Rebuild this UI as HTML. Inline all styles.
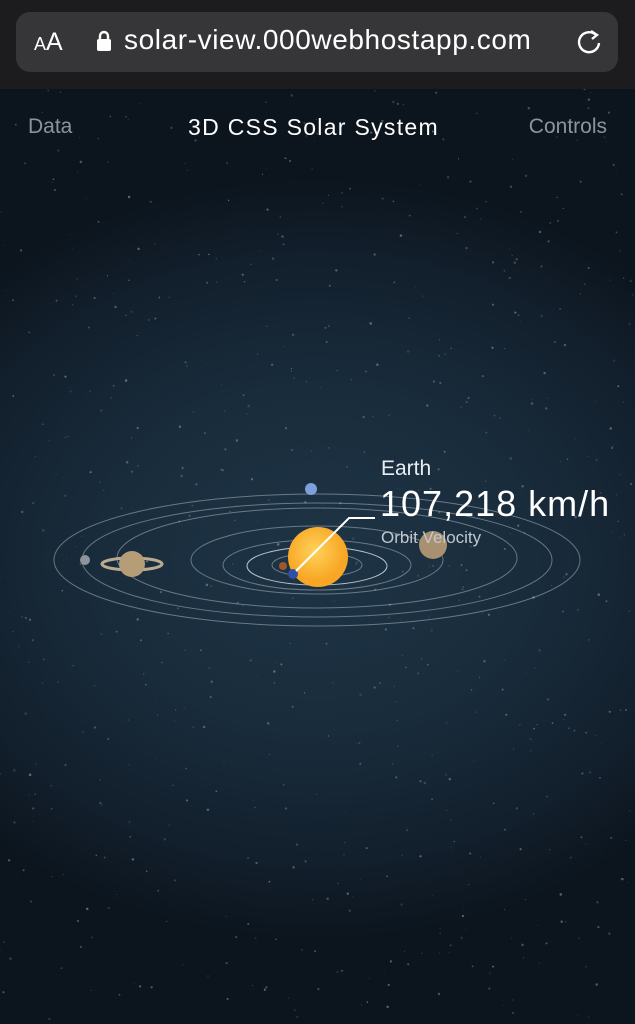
<!DOCTYPE html>
<html><head><meta charset="utf-8"><style>
body{margin:0;width:635px;height:1024px;overflow:hidden;font-family:"Liberation Sans","DejaVu Sans",sans-serif;}
#topbar{position:absolute;left:0;top:0;width:635px;height:89px;background:#1c1c1e;}
#url{position:absolute;left:16px;top:12px;width:602px;height:60px;border-radius:14px;background:#363638;}
#scene{position:absolute;left:0;top:89px;width:635px;height:935px;background:radial-gradient(ellipse 480px 380px at 317px 470px,#1e3445 0%,#192c3c 45%,#121f2c 80%,#0c151e 100%);}
.t{position:absolute;white-space:nowrap;}
</style></head><body>
<div id="topbar">
 <div id="url">
  <span class="t" style="left:18px;top:16px;color:#fff;font-size:25px;"><span style="font-size:18px">A</span>A</span>
  <svg style="position:absolute;left:80px;top:17px" width="16" height="24"><path d="M4 11V7a4 4 0 0 1 8 0v4" stroke="#fff" stroke-width="2.4" fill="none"/><rect x="1" y="10" width="14" height="12" rx="2" fill="#fff"/></svg>
  <span class="t" style="left:108px;top:12px;color:#fff;font-size:28px;letter-spacing:0.6px;">solar-view.000webhostapp.com</span>
  <svg style="position:absolute;left:560px;top:16px" width="28" height="30"><path d="M20 7 A10 10 0 1 0 23 15" stroke="#fff" stroke-width="2.4" fill="none"/><path d="M15 3 L21 7 L16 11" stroke="#fff" stroke-width="2.4" fill="none"/></svg>
 </div>
</div>
<div id="scene">
 <svg id="stars" width="635" height="935" style="position:absolute;left:0;top:0"></svg>
 <span class="t" style="left:28px;top:26px;color:#8b939c;font-size:21px;">Data</span>
 <span class="t" style="left:188px;top:25px;color:#fff;font-size:23px;letter-spacing:1.3px;">3D CSS Solar System</span>
 <span class="t" style="right:28px;top:26px;color:#8b939c;font-size:21px;">Controls</span>
</div>
<svg width="635" height="1024" style="position:absolute;left:0;top:0">
 <defs><radialGradient id="sun" cx="45%" cy="40%"><stop offset="0" stop-color="#ffd25a"/><stop offset="1" stop-color="#f8a624"/></radialGradient></defs>
 <g fill="none" stroke="#c9d3db" stroke-opacity="0.45" stroke-width="1">
  <ellipse cx="317" cy="565" rx="45" ry="12"/>
  <ellipse cx="317" cy="566" rx="70" ry="19" stroke-opacity="0.9"/>
  <ellipse cx="317" cy="565" rx="94" ry="25"/>
  <ellipse cx="317" cy="560" rx="126" ry="34"/>
  <ellipse cx="317" cy="558" rx="200" ry="50"/>
  <ellipse cx="317" cy="560" rx="235" ry="57"/>
  <ellipse cx="317" cy="560" rx="263" ry="66"/>
 </g>
 <circle cx="311" cy="489" r="6" fill="#7e9fd8"/>
 <circle cx="85" cy="560" r="5" fill="#8d949c"/>
 <g><ellipse cx="132" cy="564" rx="30" ry="6" fill="none" stroke="#b9ab8f" stroke-width="3"/><circle cx="132" cy="564" r="13" fill="#b59d77"/></g>
 <circle cx="433" cy="545" r="14" fill="#a89070"/>
 <circle cx="283" cy="566" r="4" fill="#a0562d"/>
 <circle cx="318" cy="557" r="30" fill="url(#sun)"/>
 <circle cx="293" cy="574" r="5" fill="#2f4fa8"/>
 <polyline points="296,571 349,518 375,518" fill="none" stroke="#fff" stroke-width="2"/>
 <text x="381" y="475" fill="#e8edf0" font-size="21" font-family="Liberation Sans, sans-serif">Earth</text>
 <text x="380" y="516" fill="#fff" font-size="36" letter-spacing="1" font-family="Liberation Sans, sans-serif">107,218 km/h</text>
 <text x="381" y="543" fill="#c0c8cf" font-size="17" font-family="Liberation Sans, sans-serif">Orbit Velocity</text>
</svg>
<script>
var s=document.getElementById('stars'),seed=7;
function r(){seed=(seed*16807)%2147483647;return seed/2147483647;}
var h='';
for(var i=0;i<700;i++){h+='<circle cx="'+(r()*635).toFixed(1)+'" cy="'+(r()*935).toFixed(1)+'" r="'+(0.4+r()*0.9).toFixed(2)+'" fill="#fff" fill-opacity="'+(0.08+r()*0.25).toFixed(2)+'"/>';}
s.innerHTML=h;
</script>
</body></html>
